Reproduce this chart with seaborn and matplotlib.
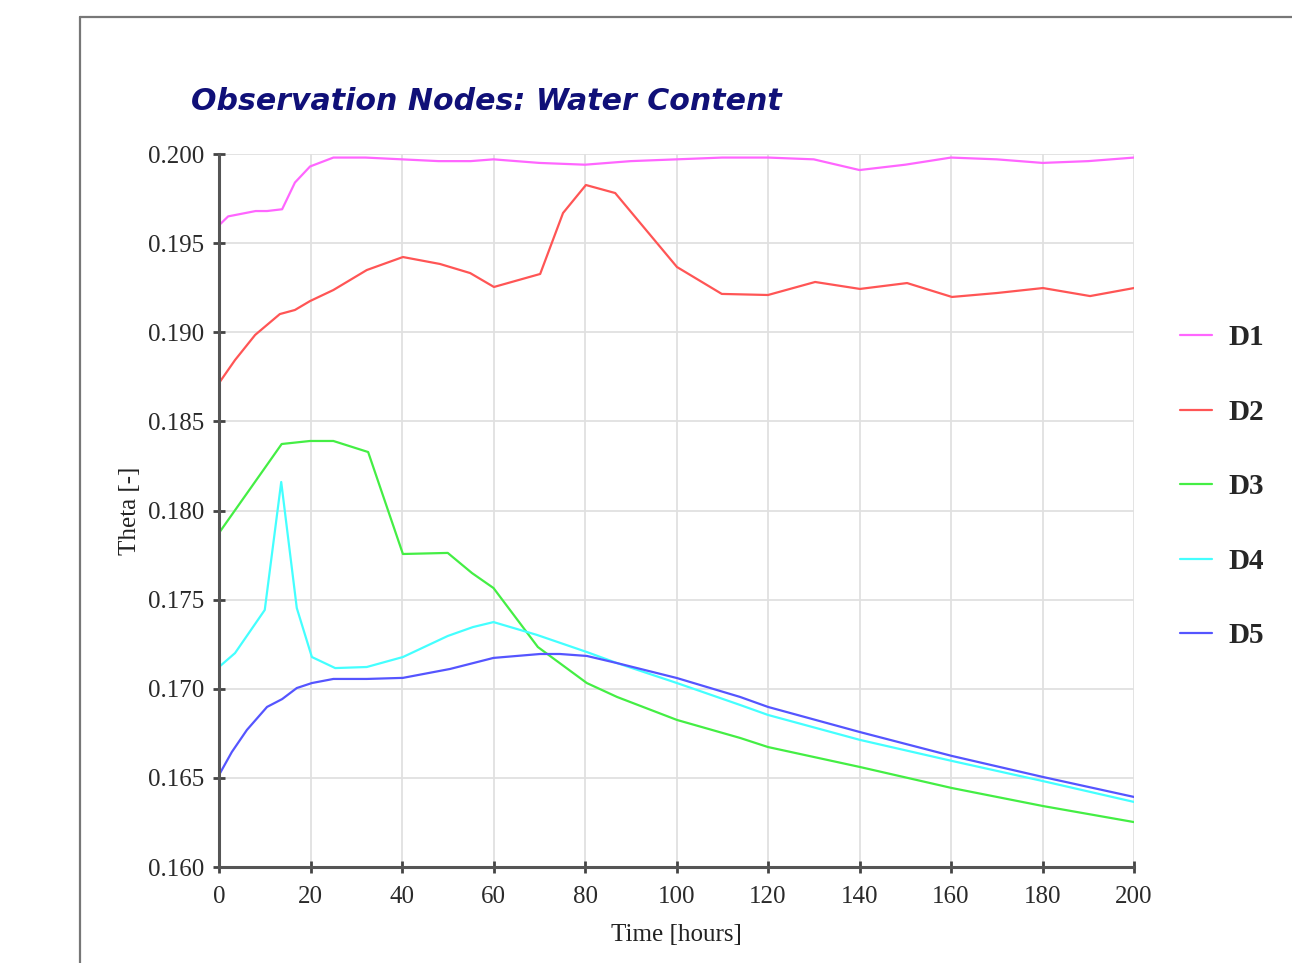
import numpy as np
import pandas as pd
import matplotlib
matplotlib.use("Agg")
import matplotlib.pyplot as plt
from matplotlib.lines import Line2D
import seaborn as sns

# ---- data ----
series_names = ["D1", "D2", "D3", "D4", "D5"]

t_d1 = [0, 2, 8, 10.5, 13.8, 16.6, 19.9, 25, 32, 40, 48, 55, 60, 70, 80, 90, 100, 110, 120, 130, 140, 150, 160, 170, 180, 190, 200]
v_d1 = [0.1960, 0.1965, 0.1968, 0.1968, 0.1969, 0.1984, 0.1993, 0.1998, 0.1998, 0.1997, 0.1996, 0.1996, 0.1997, 0.1995, 0.1994, 0.1996, 0.1997, 0.1998, 0.1998, 0.1997, 0.1991, 0.1994, 0.1998, 0.1997, 0.1995, 0.1996, 0.1998]

t_d2 = [0, 3.5, 7.9, 13.3, 16.6, 19.9, 25, 32.3, 40.2, 48.3, 54.9, 60.1, 70.2, 75.2, 80.2, 86.6, 100.1, 109.9, 120, 130.3, 140.1, 150.4, 160.2, 170, 180.1, 190.4, 200]
v_d2 = [0.18715, 0.18844, 0.18985, 0.19102, 0.19125, 0.19175, 0.19237, 0.19349, 0.19422, 0.19383, 0.19332, 0.19254, 0.19327, 0.19669, 0.19826, 0.19781, 0.19366, 0.19215, 0.19209, 0.19282, 0.19243, 0.19276, 0.19198, 0.19220, 0.19248, 0.19203, 0.19248]

t_d3 = [0, 10, 13.7, 19.9, 25, 32.6, 40.2, 50, 55.3, 60, 69.7, 80.4, 87, 100.1, 113.9, 120, 140.1, 160.2, 180.1, 200]
v_d3 = [0.17874, 0.18238, 0.18373, 0.18390, 0.18390, 0.18328, 0.17756, 0.17762, 0.17649, 0.17565, 0.17234, 0.17032, 0.16954, 0.16825, 0.16724, 0.16673, 0.16561, 0.16443, 0.16342, 0.16252]

t_d4 = [0, 3.5, 10, 13.6, 17, 20.3, 25.4, 32.3, 40.2, 50, 55.5, 60, 69.5, 80.4, 87, 100.1, 113.9, 120, 140.1, 160.2, 180.1, 200]
v_d4 = [0.17122, 0.17200, 0.17442, 0.18160, 0.17453, 0.17178, 0.17116, 0.17122, 0.17178, 0.17296, 0.17346, 0.17374, 0.17302, 0.17206, 0.17144, 0.17032, 0.16909, 0.16853, 0.16713, 0.16595, 0.16482, 0.16365]

t_d5 = [0, 2.8, 6.1, 10.5, 13.8, 17, 20.3, 25, 32.3, 40.2, 50.5, 60, 70.2, 74.5, 80.4, 87, 100.1, 113.9, 120, 140.1, 160.2, 180.1, 200]
v_d5 = [0.16516, 0.16645, 0.16769, 0.16898, 0.16942, 0.17004, 0.17032, 0.17055, 0.17055, 0.17061, 0.17111, 0.17173, 0.17195, 0.17195, 0.17184, 0.17144, 0.17060, 0.16954, 0.16898, 0.16757, 0.16623, 0.16505, 0.16393]

x_ticks = [0, 20, 40, 60, 80, 100, 120, 140, 160, 180, 200]
y_ticks = [0.160, 0.165, 0.170, 0.175, 0.180, 0.185, 0.190, 0.195, 0.200]

title_text = "Observation Nodes: Water Content"
x_label = "Time [hours]"
y_label = "Theta [-]"

colors = ["#ff66ff", "#ff5555", "#44ee44", "#44ffff", "#5555ff"]

# ---- build long table ----
frames = []
for name, t, v in zip(series_names, [t_d1, t_d2, t_d3, t_d4, t_d5],
                      [v_d1, v_d2, v_d3, v_d4, v_d5]):
    frames.append(pd.DataFrame({"Time": t, "Theta": v, "Node": name}))
df = pd.concat(frames, ignore_index=True)

sns.set_theme(style="white")
plt.rcParams["font.family"] = ["Liberation Serif", "DejaVu Serif"]

fig = plt.figure(figsize=(12.92, 9.63), dpi=100)
ax = fig.add_axes([219 / 1292, 1 - 867 / 963, (1134 - 219) / 1292, (867 - 154) / 963])

sns.lineplot(data=df, x="Time", y="Theta", hue="Node", hue_order=series_names,
             palette=colors, estimator=None, sort=False, linewidth=1.6,
             ax=ax, legend=False)

ax.set_xlim(0, 200)
ax.set_ylim(0.160, 0.200)
ax.set_xticks(x_ticks)
ax.set_yticks(y_ticks)
ax.set_yticklabels([f"{v:.3f}" for v in y_ticks])
ax.grid(True, color="#e0e0e0", linewidth=1.3)
ax.set_axisbelow(True)

for side in ["top", "right"]:
    ax.spines[side].set_visible(False)
for side in ["left", "bottom"]:
    ax.spines[side].set_color("#555555")
    ax.spines[side].set_linewidth(2.2)
ax.tick_params(axis="both", direction="inout", length=9, width=2, color="#444444",
               labelsize=18, labelcolor="#2a2a2a")
ax.tick_params(axis="y", left=True, pad=6.3)
ax.tick_params(axis="x", bottom=True, pad=9)

ax.set_xlabel(x_label, fontsize=18, color="#222222", labelpad=12)
ax.set_ylabel(y_label, fontsize=18, color="#222222", labelpad=5)

# title
fig.text(191 / 1292, 1 - 101 / 963, title_text, family="DejaVu Sans",
         fontsize=21.6, fontweight="bold", fontstyle="italic", color="#101078",
         ha="left", va="center")

# legend
handles = [Line2D([0], [0], color=c, linewidth=1.6) for c in colors]
leg = ax.legend(handles, series_names, loc="upper left",
                bbox_to_anchor=(1.0216, 0.798), frameon=False,
                prop={"family": "Liberation Serif", "weight": "bold", "size": 21},
                labelspacing=1.63, handlelength=1.1, handletextpad=0.55)

# outer frame
fig.add_artist(Line2D([80 / 1292, 80 / 1292], [0, 1 - 17 / 963],
                      transform=fig.transFigure, color="#777777", linewidth=1.6))
fig.add_artist(Line2D([80 / 1292, 1.0], [1 - 17 / 963, 1 - 17 / 963],
                      transform=fig.transFigure, color="#777777", linewidth=1.6))

fig.savefig("out.png", dpi=100)
